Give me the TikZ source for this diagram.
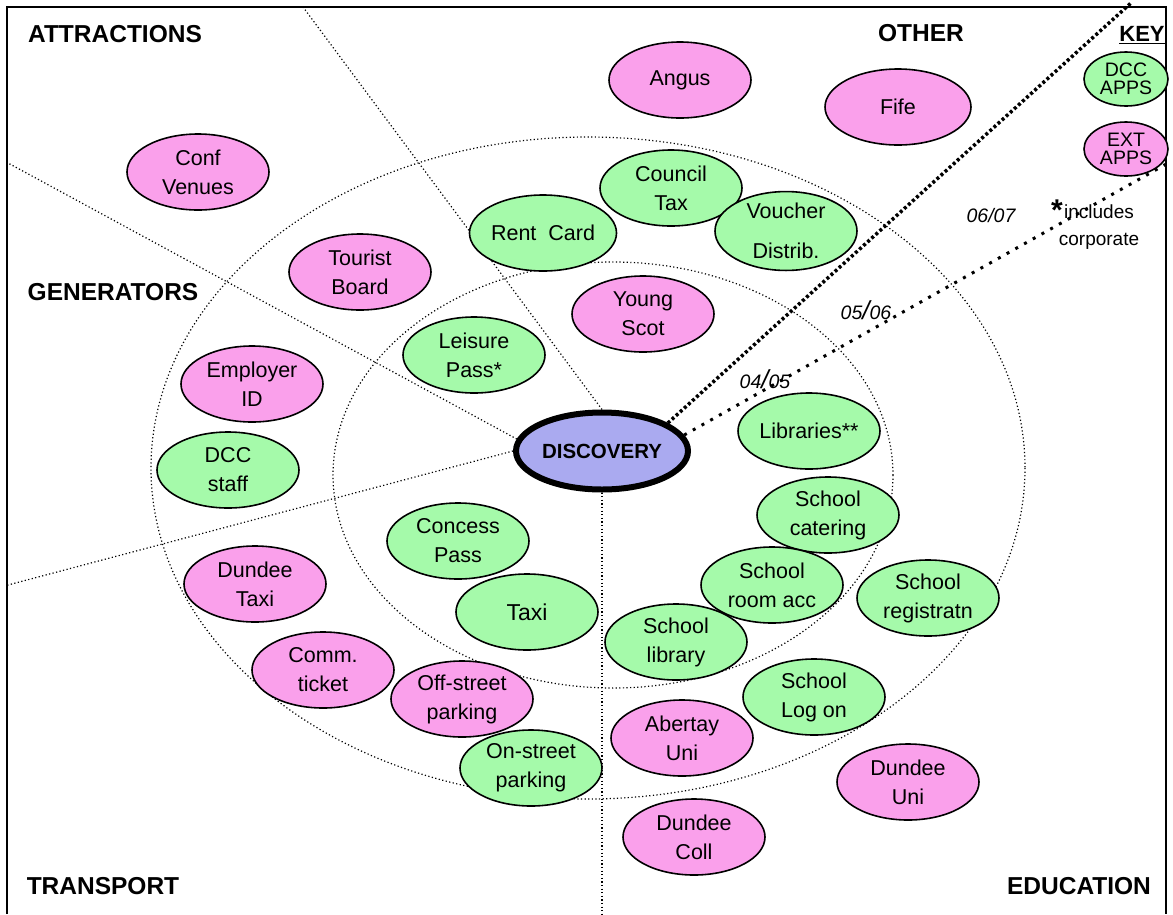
\documentclass[tikz,border=0pt]{standalone}
\usepackage{fontspec}
\setmainfont{Liberation Sans}
\usetikzlibrary{shapes.geometric}
\definecolor{extpink}{RGB}{250,160,235}
\definecolor{dccgreen}{RGB}{165,250,170}
\definecolor{discblue}{RGB}{170,170,240}
\newcommand{\appsize}{\fontsize{21.5}{29}\selectfont}
\newcommand{\keysize}{\fontsize{19.5}{18.5}\selectfont}

\begin{document}
\begin{tikzpicture}[x=1pt, y=-1pt,
    app/.style={ellipse, draw, line width=1.6pt, minimum width=142pt, minimum height=76pt, inner sep=0pt, align=center, font=\appsize},
    ext/.style={app, fill=extpink},
    dcc/.style={app, fill=dccgreen},
    keyapp/.style={minimum width=84pt, minimum height=54pt, font=\keysize},
    zone/.style={line width=1.2pt, dash pattern=on 1.2pt off 2.4pt},
    sector/.style={font=\fontsize{24.5}{24.5}\selectfont\bfseries},
    year/.style={font=\fontsize{19.5}{19.5}\selectfont\itshape}]
    \useasboundingbox (0,0) rectangle (1173,914);

    % Frame
    \draw[line width=2pt] (7,914) -- (7,7) -- (1166,7) -- (1166,914);

    % Rings
    \draw[zone] (588,468) ellipse [x radius=437, y radius=331];
    \draw[zone] (613,475) ellipse [x radius=280, y radius=213];

    % Centre
    \node[ellipse, draw, line width=6pt, fill=discblue, minimum width=172pt, minimum height=77pt,
      inner sep=0pt, font=\fontsize{20.5}{20.5}\selectfont\bfseries] (disc) at (602,451) {DISCOVERY};

    % Sector lines
    \coordinate (attrtop) at (303,7);
    \coordinate (genleft) at (8,163);
    \coordinate (transleft) at (8,585);
    \coordinate (edubottom) at (602,914);
    \coordinate (otherend) at (1131,3);
    \coordinate (keyend) at (1168,163);
    \draw[zone] (disc.north) -- (attrtop);
    \draw[zone] (disc.172) -- (genleft);
    \draw[zone] (disc.west) -- (transleft);
    \draw[zone] (disc.south) -- (edubottom);
    \draw[line width=3.5pt, dash pattern=on 3pt off 2.5pt] (disc.23) -- (otherend);
    \draw[line width=3pt, dash pattern=on 3pt off 7pt] (disc.11) -- (keyend);

    % Years
    \node[year] (y45) at (765,379) {04{\fontsize{26}{26}\selectfont/}05};
    \node[year] (y56) at (866,310) {05{\fontsize{26}{26}\selectfont/}06};
    \node[year] (y67) at (991,216) {06/07};

    % Sector names
    \node[sector] (attr) at (115,34) {ATTRACTIONS};
    \node[sector] (other) at (921,33) {OTHER};
    \node[sector] (gen) at (113,292) {GENERATORS};
    \node[sector] (trans) at (103,886) {TRANSPORT};
    \node[sector] (edu) at (1079,886) {EDUCATION};

    % Key
    \node[sector, font=\fontsize{22}{22}\selectfont\bfseries] (key) at (1142,35) {\underline{KEY}};
    \node[dcc, keyapp] (keydcc) at (1126,79) {DCC\\APPS};
    \node[ext, keyapp] (keyext) at (1126,149) {EXT\\APPS};
    \node[font=\fontsize{30}{30}\selectfont\bfseries] (star) at (1057,210) {*};
    \node[align=center, font=\fontsize{19}{27}\selectfont] (incl) at (1099,227) {includes\\corporate};

    % Applications
    \node[ext] (angus) at (680,80) {Angus};
    \node[ext, minimum width=146pt] (fife) at (898,107) {Fife};
    \node[ext] (conf) at (198,172) {Conf\\Venues};
    \node[dcc] (ctax) at (671,188) {Council\\Tax};
    \node[dcc, font=\fontsize{21.5}{40}\selectfont] (voucher) at (786,231) {Voucher\\Distrib.};
    \node[dcc, minimum width=138pt] (rent) at (543,233) {Rent\ \ Card};
    \node[ext] (tourist) at (360,272) {Tourist\\Board};
    \node[ext] (young) at (643,314) {Young\\Scot};
    \node[dcc] (leisure) at (474,355) {Leisure\\Pass*};
    \node[ext] (employer) at (252,384) {Employer\\ID};
    \node[dcc] (libraries) at (809,431) {Libraries**};
    \node[dcc] (dccstaff) at (228,470) {DCC\\staff};
    \node[dcc] (catering) at (828,515) {School\\catering};
    \node[dcc] (concess) at (458,541) {Concess\\Pass};
    \node[ext] (dtaxi) at (255,584) {Dundee\\Taxi};
    \node[dcc] (roomacc) at (772,585) {School\\room acc};
    \node[dcc] (registr) at (928,598) {School\\registratn};
    \node[dcc, font=\fontsize{23}{29}\selectfont] (taxi) at (527,612) {Taxi};
    \node[dcc] (slibrary) at (676,642) {School\\library};
    \node[ext] (comm) at (323,670) {Comm.\\ticket};
    \node[ext] (offstreet) at (462,699) {Off-street\\parking};
    \node[dcc] (logon) at (814,697) {School\\Log on};
    \node[ext] (abertay) at (682,738) {Abertay\\Uni};
    \node[dcc] (onstreet) at (531,768) {On-street\\parking};
    \node[ext] (dundeeuni) at (908,782) {Dundee\\Uni};
    \node[ext] (dcoll) at (694,837) {Dundee\\Coll};
\end{tikzpicture}
\end{document}
